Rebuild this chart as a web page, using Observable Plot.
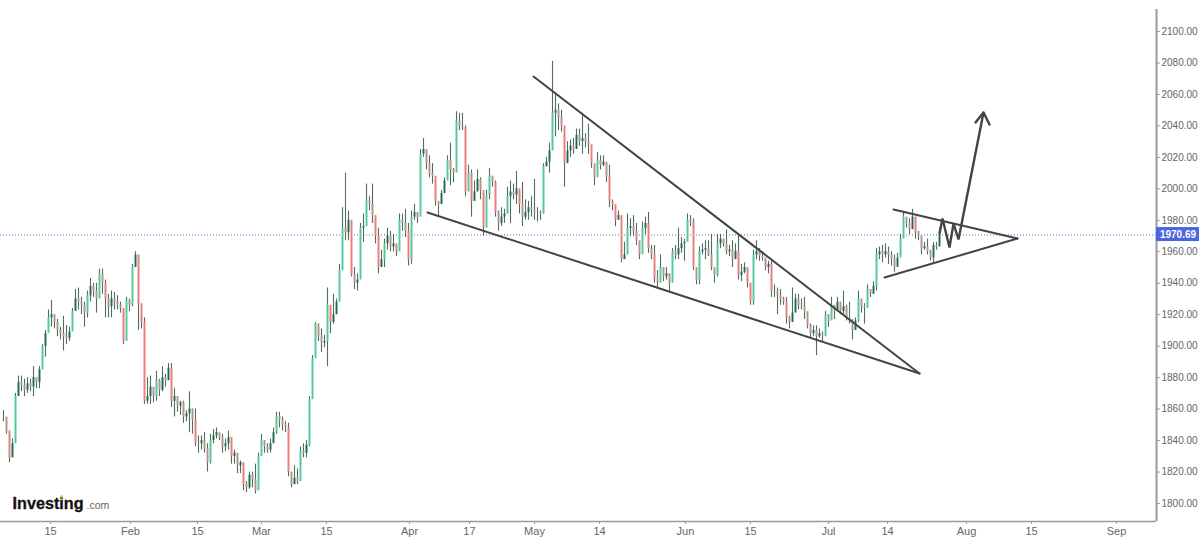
<!DOCTYPE html>
<html>
<head>
<meta charset="utf-8">
<script src="https://cdn.jsdelivr.net/npm/d3@7"></script>
<script src="https://cdn.jsdelivr.net/npm/@observablehq/plot@0.6"></script>
<style>
html,body{margin:0;padding:0;background:#fff;overflow:hidden}
svg{display:block}
</style>
</head>
<body>
<div id="chart"></div>
<script>
const highs = [
1859,1852,1846,1841,1870,1881,1881,1879,1880,1879,
1887,1880,1887,1901,1910,1923,1929,1919,1917,1912,
1919,1913,1912,1924,1936,1937,1931,1928,1935,1943,
1940,1940,1949,1949,1942,1933,1935,1934,1932,1928,
1923,1931,1930,1952,1960,1956,1919,1918,1880,1881,
1872,1884,1879,1887,1882,1889,1889,1873,1866,1865,
1865,1859,1871,1860,1860,1843,1843,1845,1838,1844,
1847,1848,1844,1844,1841,1846,1840,1834,1829,1827,
1821,1814,1820,1820,1825,1832,1844,1840,1838,1841,
1848,1858,1858,1855,1852,1851,1817,1824,1822,1836,
1838,1840,1868,1894,1915,1914,1911,1907,1937,1925,
1933,1930,1952,1988,2010,1986,1978,1950,1946,1978,
1984,2003,1995,2003,1980,1975,1961,1968,1975,1973,
1971,1965,1984,1984,1987,1978,1986,1990,1985,2025,
2032,2022,2021,2016,2006,1992,1999,2007,2021,2029,
2013,2049,2048,2048,2040,2015,2012,2005,2012,2007,
1997,1999,2013,2008,2005,1986,1988,1987,2001,2005,
2003,2011,1997,2004,1993,1992,1995,2006,1988,1986,
2016,2020,2029,2081,2060,2054,2050,2036,2030,2031,
2032,2038,2038,2048,2035,2041,2020,2014,2023,2021,
2021,2016,2015,1993,1986,1986,1975,1966,1984,1981,
1983,1978,1965,1979,1982,1985,1964,1964,1948,1958,
1948,1950,1946,1962,1964,1975,1969,1968,1984,1983,
1981,1949,1963,1965,1967,1967,1971,1949,1971,1971,
1968,1974,1964,1967,1965,1971,1952,1953,1948,1940,
1961,1967,1962,1960,1955,1954,1954,1939,1937,1936,
1931,1931,1919,1937,1933,1933,1930,1931,1917,1914,
1913,1913,1911,1909,1922,1920,1931,1925,1931,1926,
1935,1926,1928,1915,1918,1935,1927,1927,1939,1936,
1941,1962,1963,1964,1965,1963,1960,1958,1959,1971,
1985,1981,1981,1987,1982,1973,1969,1966,1968,1961,
1966,1966,1975];

const lows = [
1852,1844,1826,1833,1838,1868,1871,1868,1870,1871,
1868,1873,1873,1885,1893,1912,1912,1911,1906,1904,
1897,1901,1903,1910,1923,1923,1920,1912,1918,1928,
1931,1921,1937,1933,1918,1918,1918,1923,1923,1921,
1901,1923,1922,1925,1952,1910,1911,1863,1863,1863,
1864,1865,1868,1871,1874,1880,1861,1855,1858,1856,
1851,1852,1845,1844,1836,1832,1834,1832,1820,1825,
1838,1841,1840,1832,1833,1834,1825,1825,1819,1819,
1808,1807,1809,1810,1806,1824,1830,1832,1832,1832,
1839,1844,1848,1846,1845,1817,1810,1812,1812,1821,
1829,1829,1836,1878,1899,1903,1896,1899,1887,1908,
1914,1920,1928,1948,1967,1967,1944,1936,1935,1946,
1966,1978,1986,1978,1965,1946,1950,1950,1961,1960,
1960,1957,1971,1973,1969,1951,1952,1980,1978,1984,
2020,2012,2007,2003,1989,1983,1990,2001,2012,2002,
2004,2017,2037,2037,1995,1999,1982,1993,1999,1993,
1970,1993,1993,2001,1982,1973,1976,1978,1984,1978,
1993,1990,1984,1976,1980,1980,1982,1980,1979,1980,
1984,2014,2010,2025,2033,2037,2036,2001,2019,2020,
2022,2027,2027,2022,2026,2022,2013,2002,2010,2012,
2014,2004,1988,1986,1976,1982,1953,1955,1958,1970,
1970,1964,1955,1967,1971,1959,1955,1940,1937,1946,
1941,1942,1934,1942,1955,1955,1959,1954,1968,1976,
1948,1939,1939,1958,1955,1957,1948,1940,1944,1962,
1963,1958,1957,1950,1957,1942,1941,1946,1937,1926,
1926,1955,1954,1954,1948,1946,1931,1931,1920,1926,
1926,1914,1911,1917,1924,1923,1923,1917,1911,1905,
1906,1894,1905,1903,1906,1912,1919,1917,1923,1920,
1920,1916,1914,1904,1912,1915,1921,1914,1926,1931,
1933,1935,1955,1953,1956,1952,1951,1947,1952,1957,
1971,1975,1971,1978,1968,1967,1958,1961,1958,1954,
1953,1961,1965];

const closes = [
1855,1846,1829,1838,1868,1877,1875,1872,1876,1874,
1880,1877,1885,1900,1908,1918,1920,1915,1910,1908,
1906,1905,1909,1922,1930,1928,1926,1921,1932,1938,
1935,1930,1946,1940,1930,1925,1930,1928,1926,1924,
1903,1929,1926,1950,1958,1927,1915,1865,1868,1874,
1868,1878,1872,1880,1878,1886,1865,1868,1862,1864,
1855,1857,1860,1853,1838,1838,1840,1835,1826,1840,
1843,1845,1842,1836,1838,1842,1830,1832,1824,1826,
1812,1810,1818,1815,1808,1830,1840,1836,1834,1838,
1845,1855,1853,1850,1848,1820,1812,1816,1814,1833,
1832,1837,1866,1892,1914,1906,1902,1903,1926,1915,
1920,1928,1948,1975,1972,1980,1945,1940,1942,1975,
1976,1992,1990,1983,1970,1950,1955,1965,1970,1963,
1965,1960,1980,1978,1973,1955,1982,1985,1982,2022,
2025,2016,2010,2008,1992,1990,1997,2005,2018,2012,
2010,2043,2040,2039,1998,2010,1992,1998,2006,1999,
1975,1996,2008,2004,1985,1978,1982,1984,1995,1998,
1996,2000,1990,1982,1985,1988,1986,1985,1985,1984,
2014,2017,2024,2048,2050,2045,2040,2016,2024,2027,
2025,2034,2030,2032,2030,2028,2016,2007,2018,2015,
2017,2008,1992,1990,1980,1983,1955,1958,1975,1976,
1973,1967,1958,1975,1978,1962,1958,1943,1940,1950,
1944,1946,1940,1960,1958,1962,1965,1966,1980,1979,
1950,1942,1960,1961,1962,1958,1950,1945,1965,1968,
1965,1960,1961,1955,1960,1945,1947,1950,1940,1928,
1958,1960,1957,1956,1950,1952,1935,1935,1932,1930,
1928,1918,1915,1921,1930,1926,1925,1922,1913,1908,
1910,1906,1908,1907,1920,1916,1926,1922,1928,1922,
1925,1918,1917,1910,1916,1930,1925,1924,1936,1933,
1938,1958,1960,1958,1960,1958,1955,1950,1956,1968,
1982,1978,1974,1982,1972,1970,1962,1963,1960,1956,
1964,1963,1970.69];

const firstOpen = 1855;
const lastPrice = 1970.69;

// Axis ticks, expressed in bar numbers
const tickBars = [15.67,42.33,64.67,86,107.67,135.33,155.33,177,198.67,227.33,249,275,294.67,321,342.67,371];
const tickLabels = ["15","Feb","15","Mar","15","Apr","17","May","14","Jun","15","Jul","14","Aug","15","Sep"];
const priceTicks = [1800,1820,1840,1860,1880,1900,1920,1940,1960,1980,2000,2020,2040,2060,2080,2100];

// Hand-drawn analysis lines, in [bar, price]
const wedgeLower = [[141.33,1985],[305.33,1882.6]];
const wedgeUpper = [[176.67,2071.4],[305.33,1882.6]];
const triangleUpper = [[296.67,1986.9],[338,1968.4]];
const triangleLower = [[293.67,1943.6],[338,1968.4]];
const projection = [[312,1971.6],[313,1981.1],[315.33,1962.7],[316.67,1978],[318.33,1967.8],[326.67,2048.5]];
const arrowHead = [[324,2042.2],[326.67,2048.5],[328.67,2040.9]];

const bars = closes.map((c,i)=>({i,high:highs[i],low:lows[i],open:i?closes[i-1]:firstOpen,close:c}));
const up = "#52c99c", down = "#ec7d7a", smallUp = "#1f6b52", smallDown = "#b89488", ink = "#444", axisGrey = "#9a9a9a", labelGrey = "#666";
const bodyColor = d => {
  const tall = Math.abs(d.close-d.open) > 9;
  return d.close>=d.open ? (tall?up:smallUp) : (tall?down:smallDown);
};
const line = (pts,w)=>Plot.line(pts,{x:d=>d[0],y:d=>d[1],stroke:ink,strokeWidth:w,strokeLinejoin:"miter",strokeLinecap:"round"});
const xEnd = 384.33, yLow = 1788.56, yHigh = 2113.98;

const chart = Plot.plot({
  width:1200,height:538,
  marginTop:9,marginBottom:17,marginLeft:0,marginRight:44,
  style:{fontFamily:"'Liberation Sans',Arial,sans-serif",background:"#fff",overflow:"visible"},
  x:{domain:[-1,xEnd],range:[0,1156]},
  y:{domain:[yLow,yHigh],range:[521,9]},
  marks:[
    Plot.ruleY([lastPrice],{stroke:"#5568d8",strokeWidth:1,strokeDasharray:"1,2"}),
    Plot.ruleX(bars,{x:"i",y1:"low",y2:"high",stroke:"#24483c",strokeWidth:1.1,strokeOpacity:0.8}),
    Plot.ruleX(bars,{x:"i",y1:"open",y2:"close",stroke:bodyColor,strokeWidth:1.9}),
    line(wedgeLower,2),line(wedgeUpper,2),
    line(triangleUpper,2),line(triangleLower,2),
    line(projection,2.4),line(arrowHead,2.4),
    Plot.ruleX([xEnd],{y1:yLow,y2:yHigh,stroke:axisGrey,strokeWidth:2}),
    Plot.ruleY([yLow],{stroke:axisGrey,strokeWidth:1.5}),
    Plot.axisY({anchor:"right",ticks:priceTicks,tickFormat:d=>d.toFixed(2),tickSize:3,tickPadding:2,
      fontSize:10,color:labelGrey,stroke:axisGrey,label:null}),
    Plot.axisX({anchor:"bottom",ticks:tickBars,tickFormat:d=>tickLabels[tickBars.indexOf(d)],tickSize:3,tickPadding:3,
      fontSize:11,color:labelGrey,stroke:axisGrey,label:null}),
    Plot.rect([lastPrice],{x1:xEnd,x2:398.67,y1:1966.5,y2:1975.4,fill:"#4c65e0"}),
    Plot.text([lastPrice],{x:391.5,y:lastPrice,text:d=>d.toFixed(2),fill:"#fff",fontSize:10,fontWeight:"bold"}),
    Plot.text(["Investing"],{x:3,y:1800,text:d=>d,textAnchor:"start",fontSize:16.2,fontWeight:"bold",fill:"#111",stroke:"#111",strokeWidth:0.3}),
    Plot.text([".com"],{x:27.67,y:1798.7,text:d=>d,textAnchor:"start",fontSize:10.5,fill:"#666"}),
    Plot.dot([0],{x:19.33,y:1804.4,r:1.4,fill:"#f4b73a"})
  ]
});
document.getElementById("chart").append(chart);
</script>
</body>
</html>
